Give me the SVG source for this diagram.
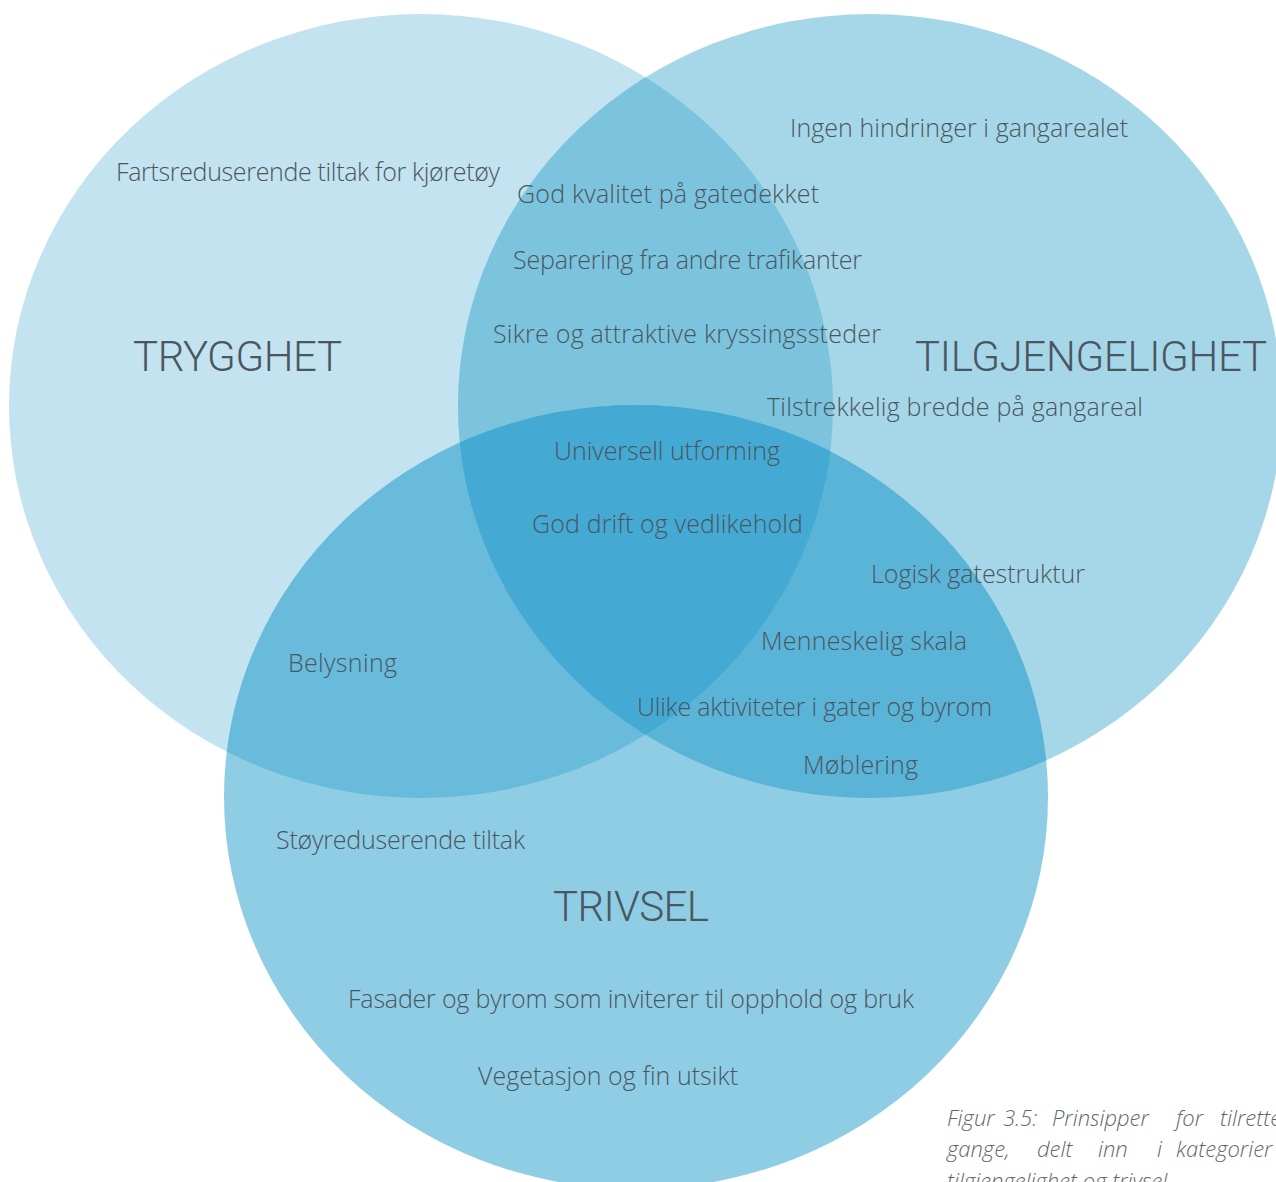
<svg xmlns="http://www.w3.org/2000/svg" width="1276" height="1182" viewBox="0 0 1276 1182">
<style>
.t{font-family:"Open Sans",Roboto,sans-serif;font-weight:300;font-size:25px;fill:#4a5661}
.h{font-family:Roboto,"Open Sans",sans-serif;font-weight:300;font-size:42px;fill:#4a5661}
.c{font-family:"Open Sans",Roboto,sans-serif;font-weight:300;font-style:italic;font-size:22px;fill:#5f6870}
</style>
<defs>
<ellipse id="cL" cx="421" cy="406" rx="412" ry="392"/>
<ellipse id="cR" cx="870" cy="406" rx="412" ry="392"/>
<ellipse id="cB" cx="636" cy="797" rx="412" ry="392"/>
<clipPath id="kL"><use href="#cL"/></clipPath>
<clipPath id="kR"><use href="#cR"/></clipPath>
</defs>
<rect width="1276" height="1182" fill="#ffffff"/>
<g id="trygghet-circle"><use href="#cL" fill="#c2e3ef"/></g>
<g id="tilgjengelighet-circle"><use href="#cR" fill="#a6d7e8"/></g>
<g id="trivsel-circle"><use href="#cB" fill="#8fcde4"/></g>
<g id="overlaps">
<use href="#cR" fill="#7cc4de" clip-path="url(#kL)"/>
<use href="#cB" fill="#69bbdb" clip-path="url(#kL)"/>
<use href="#cB" fill="#5ab4d7" clip-path="url(#kR)"/>
<g clip-path="url(#kL)"><use href="#cB" fill="#44aad4" clip-path="url(#kR)"/></g>
</g>
<g id="labels">
<text class="h" x="133" y="371" textLength="209">TRYGGHET</text>
<text class="h" x="915" y="371" textLength="352">TILGJENGELIGHET</text>
<text class="h" x="553" y="921" textLength="156">TRIVSEL</text>
<text class="t" x="790" y="137" textLength="338">Ingen hindringer i gangarealet</text>
<text class="t" x="116" y="181" textLength="384">Fartsreduserende tiltak for kjøretøy</text>
<text class="t" x="517" y="203" textLength="302">God kvalitet på gatedekket</text>
<text class="t" x="513" y="269" textLength="349">Separering fra andre trafikanter</text>
<text class="t" x="493" y="343" textLength="388">Sikre og attraktive kryssingssteder</text>
<text class="t" x="767" y="416" textLength="376">Tilstrekkelig bredde på gangareal</text>
<text class="t" x="554" y="460" textLength="226">Universell utforming</text>
<text class="t" x="532" y="533" textLength="271">God drift og vedlikehold</text>
<text class="t" x="871" y="583" textLength="214">Logisk gatestruktur</text>
<text class="t" x="761" y="650" textLength="206">Menneskelig skala</text>
<text class="t" x="288" y="672" textLength="109">Belysning</text>
<text class="t" x="637" y="716" textLength="355">Ulike aktiviteter i gater og byrom</text>
<text class="t" x="803" y="774" textLength="115">Møblering</text>
<text class="t" x="276" y="849" textLength="249">Støyreduserende tiltak</text>
<text class="t" x="348" y="1008" textLength="566">Fasader og byrom som inviterer til opphold og bruk</text>
<text class="t" x="478" y="1085" textLength="260">Vegetasjon og fin utsikt</text>
</g>
<g id="caption">
<text class="c" y="1126"><tspan x="947">Figur</tspan><tspan x="1003">3.5:</tspan><tspan x="1052">Prinsipper</tspan><tspan x="1176">for</tspan><tspan x="1220">tilrette</tspan></text>
<text class="c" y="1157"><tspan x="947">gange,</tspan><tspan x="1037">delt</tspan><tspan x="1098">inn</tspan><tspan x="1157">i</tspan><tspan x="1176">kategorier</tspan></text>
<text class="c" x="947" y="1189">tilgjengelighet og trivsel</text>
</g>
</svg>
